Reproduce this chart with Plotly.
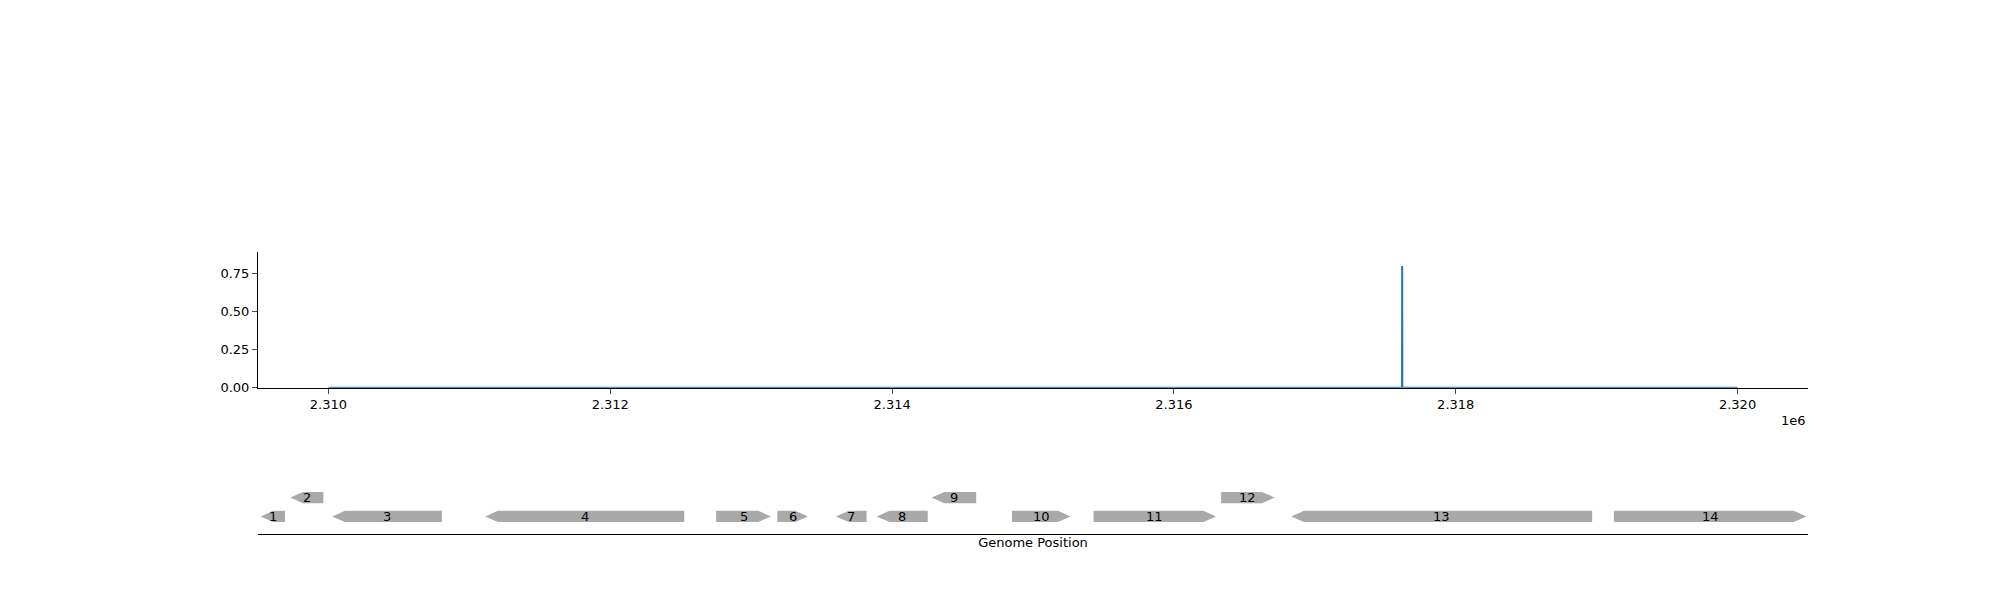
import numpy as np
import plotly.graph_objects as go

# signal track
pos = [2310000, 2317619, 2317620, 2317621, 2320000]
val = [0.0, 0.0, 0.80, 0.0, 0.0]

# genes: start, end, strand, row
gene_names = [str(i) for i in range(1, 15)]
gene_start = [2309520, 2309729, 2310027, 2311113, 2312751, 2313186, 2313602,
              2313891, 2314281, 2314851, 2315430, 2316335, 2316833, 2319122]
gene_end = [2309692, 2309964, 2310805, 2312525, 2313140, 2313403, 2313819,
            2314253, 2314597, 2315267, 2316299, 2316715, 2318968, 2320489]
gene_strand = [-1, -1, -1, -1, 1, 1, -1, -1, -1, 1, 1, 1, -1, 1]
gene_row = [0, 1, 0, 0, 0, 0, 0, 0, 1, 0, 0, 1, 0, 0]

XR = [2309500, 2320500]
FONT = dict(family="DejaVu Sans", size=13, color="black")

fig = go.Figure()
fig.add_trace(go.Scatter(x=pos, y=val, mode="lines", line=dict(color="#1f77b4", width=2),
                         xaxis="x", yaxis="y", showlegend=False, hoverinfo="skip"))

head = 90
h = 0.3
for name, s, e, st, r in zip(gene_names, gene_start, gene_end, gene_strand, gene_row):
    hl = min(head, (e - s) * 0.5)
    if st > 0:
        xs = [s, e - hl, e, e - hl, s, s]
        ys = [r - h, r - h, r, r + h, r + h, r - h]
    else:
        xs = [e, s + hl, s, s + hl, e, e]
        ys = [r - h, r - h, r, r + h, r + h, r - h]
    fig.add_trace(go.Scatter(x=xs, y=ys, mode="lines", fill="toself", fillcolor="#a9a9a9",
                             line=dict(width=0, color="#a9a9a9"), xaxis="x2", yaxis="y2",
                             showlegend=False, hoverinfo="skip"))
    fig.add_annotation(x=(s + e) / 2, y=r, xref="x2", yref="y2", text=name,
                       showarrow=False, font=FONT)

fig.add_annotation(x=0.9, y=1 - 418 / 600, xref="paper", yref="paper", text="1e6",
                   showarrow=False, xanchor="right", yanchor="middle", font=FONT)

fig.update_layout(
    width=2000, height=600, margin=dict(l=0, r=0, t=0, b=0),
    paper_bgcolor="white", plot_bgcolor="white", font=FONT,
    xaxis=dict(domain=[0.125, 0.9], range=XR, anchor="y", showgrid=False, zeroline=False,
               showline=True, linecolor="black", ticks="outside", ticklen=5,
               tickvals=[2310000, 2312000, 2314000, 2316000, 2318000, 2320000],
               ticktext=["2.310", "2.312", "2.314", "2.316", "2.318", "2.320"]),
    yaxis=dict(domain=[1 - 385 / 600, 1 - 247.5 / 600], range=[0, 0.89], anchor="x",
               showgrid=False, zeroline=False, showline=True, linecolor="black",
               ticks="outside", ticklen=5, tickvals=[0, 0.25, 0.5, 0.75], tickformat=".2f"),
    xaxis2=dict(domain=[0.125, 0.9], range=XR, anchor="y2", showgrid=False, zeroline=False,
                showline=True, linecolor="black", showticklabels=False, ticks="",
                title=dict(text="Genome Position", font=FONT, standoff=4)),
    yaxis2=dict(domain=[1 - 533 / 600, 1 - 484.7 / 600], range=[-0.93, 1.6], anchor="x2",
                visible=False),
)

fig.write_html("out.html")
